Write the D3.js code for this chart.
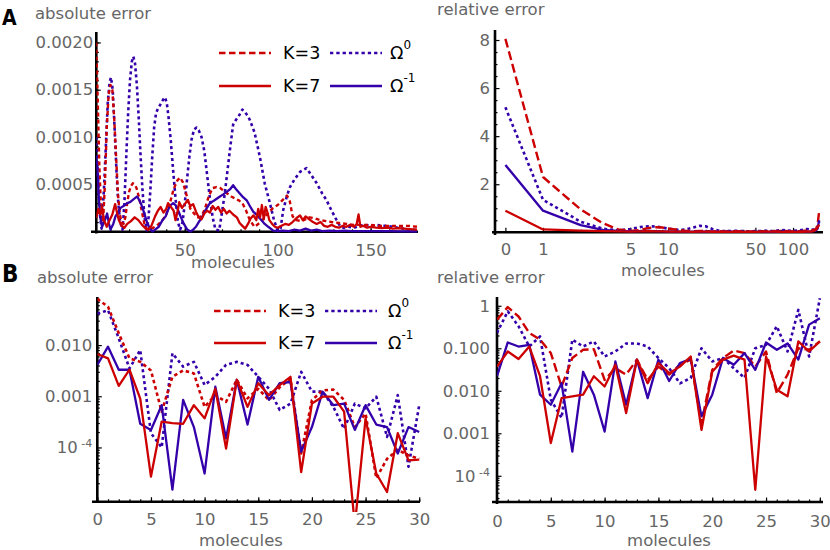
<!DOCTYPE html>
<html>
<head>
<meta charset="utf-8">
<script src="https://cdn.jsdelivr.net/npm/d3@7"></script>
<style>
  body { margin: 0; background: #fff; }
  svg text { font-family: "DejaVu Sans", sans-serif; }
</style>
</head>
<body>
<svg id="chart" width="830" height="550"></svg>
<script>
// ===================== DADOS =====================
// Painel A, erro absoluto: pares [moléculas, erro em unidades de 1e-4]
const aK3 = [[2.3,20],[3,15],[4,7],[5,2],[6,1],[7,5],[8,11],[9,14.5],[10,15.5],[11,15],[12,12],[13,8],[14,4],[15,1.8],[16,1],[17,0.8],[18,1.5],[19,3],[20,4.2],[21,4.8],[22,5.1],[23,5],[24,4.6],[25.5,3.5],[27,2],[28.5,0.6],[30,0.2],[32,0.3],[34,0.5],[36,0.8],[38,1.2],[40,1.8],[42,3],[44,4.5],[46,5.4],[47.5,5.7],[49,5.2],[51,3.8],[53,2.4],[55,1.9],[57,1.5],[59,1.6],[61,2.5],[63,3.8],[65,4.6],[67,4.7],[69,4.6],[71,4.3],[73,4.0],[75,3.7],[77,3.5],[79,3.3],[81,3.0],[83,2.2],[85,1.2],[87.5,0.5],[91,1],[94,1.8],[97,2.4],[100,2.8],[103,3.4],[105,3.8],[106.5,3.2],[108,1.6],[110,1.2],[113,1.1],[117,1.5],[120,1.4],[123,1.2],[126,1.1],[129,1.0],[133,0.9],[137,0.8],[141,0.7],[145,0.7],[150,0.7],[155,0.6],[160,0.6],[165,0.6],[170,0.6],[175,0.5]];
const aK7 = [[2.3,1.4],[3.5,2.4],[4.5,1.8],[5.5,2.6],[6.5,1.2],[8,0.5],[9.5,1.2],[11,1.8],[12.5,2.9],[13.5,2.0],[14.5,1.2],[16,0.6],[17.5,0.4],[19,0.8],[21,1.1],[23,1.5],[25,1.2],[27,0.7],[29,0.3],[30.5,0.2],[32,0.6],[34,1.6],[35.5,2.2],[37,2.6],[38.5,2.0],[40,2.4],[41,3.0],[42.5,2.6],[44,2.2],[45,1.2],[46,2.0],[47,3.1],[48.5,2.5],[50,2.9],[51.5,3.3],[53,2.7],[54.5,2.9],[56,2.1],[57.5,1.5],[59,1.3],[60.5,1.9],[62,2.2],[63.5,2.0],[65,2.7],[66.5,2.3],[68,2.6],[69.5,2.0],[71,2.4],[72.5,1.9],[74,2.2],[76,1.8],[78,1.5],[79.5,0.9],[81,0.6],[82.5,0.3],[84,0.8],[85.5,1.4],[87,1.7],[88.5,1.2],[89.5,2.4],[90.5,1.5],[91.5,2.8],[92.5,1.3],[93.5,2.6],[94.5,2.0],[95.5,1.2],[97,0.8],[98.5,0.5],[100,0.4],[102,0.6],[104,0.8],[106,0.7],[108,1.0],[110,1.4],[112,1.7],[113.5,1.2],[115,1.6],[117,1.3],[119,1.0],[121,0.8],[123,1.0],[125,0.6],[127,0.5],[129,0.7],[131,0.5],[133,0.4],[135,0.6],[137,0.5],[139,0.7],[141,0.5],[142.5,0.8],[143.5,1.8],[144.5,0.5],[146,0.6],[148,0.4],[150,0.5],[153,0.4],[156,0.35],[159,0.4],[162,0.3],[165,0.35],[168,0.3],[171,0.25],[175,0.2]];
const aOm0 = [[2.3,10],[3.2,6],[4.2,2],[5.2,0.3],[6.5,4.5],[7.5,9],[8.5,13.5],[9.5,15.8],[10.3,16.3],[11.2,15],[12.2,11],[13.2,6.5],[14.2,3],[15.2,1],[16.5,0.2],[17.5,3],[18.5,8],[19.5,12.5],[20.5,16],[21.5,18],[22.3,18.5],[23.2,17.8],[24.2,15.5],[25.2,12],[26.2,8],[27.2,4.5],[28.3,1.5],[29.5,0.1],[30.5,1.5],[31.5,4.5],[32.5,8],[33.5,11],[34.5,12.5],[35.5,13],[36.5,13.3],[37.5,13.7],[38.5,14],[39.3,14.2],[40.3,13.6],[41.3,12],[42.5,9.5],[43.7,6.5],[45,3.5],[46.3,1],[47.5,0.2],[48.8,1],[50,3],[51.2,5.5],[52.5,8],[53.7,9.8],[55,10.8],[56.3,11],[57.5,10.7],[59,10],[60.5,8.5],[62,6],[63.5,3.5],[65,1.5],[66.5,0.2],[68.5,0.1],[70,2],[71.5,4],[73,6.5],[74.5,9],[76,11.3],[77.5,11.8],[79,12.2],[81,12.9],[82.5,12.6],[84,12.2],[85,11.8],[87.5,10.5],[90.4,7.9],[93,5.1],[95.8,3],[98,1.2],[100,0.1],[101.5,0.3],[103,2.3],[105,3.8],[106.6,4.7],[109,5.5],[112,6.3],[115.5,6.7],[118,6.0],[121,5.1],[124,4.0],[126.3,3.3],[129,2.2],[131.7,1.2],[133.5,0.6],[135.5,0.4],[138,0.5],[141,0.4],[144,0.6],[147,0.7],[150,0.6],[153,0.7],[156,0.6],[159,0.6],[162,0.5],[165,0.4],[168,0.3],[171,0.2],[175,0.15]];
const aOm1 = [[2.3,8],[3,6.5],[3.8,3.3],[4.5,1.5],[5.5,0.5],[7,1.2],[8.2,1.9],[9.2,0.8],[10,0.2],[11.5,0.8],[12.7,1.6],[14,2.0],[15.4,2.5],[17,2.7],[19,3.0],[20.5,3.1],[21.7,3.3],[23,3.5],[24.4,3.7],[25.8,3.2],[27.1,2.6],[28.5,1.7],[29.8,0.9],[31,0.4],[32.5,0.0],[34,0.2],[36,0.5],[38,1.2],[39.7,1.6],[41,2.3],[42.4,2.8],[43.7,3.0],[45,2.8],[46.3,2.3],[47.7,1.6],[49.5,0.8],[51.3,0.2],[53,0.0],[54.5,0.2],[56,0.5],[57.5,1.0],[59,1.4],[61,2.2],[63.5,3.0],[66,3.3],[68.9,3.7],[70.5,3.9],[72.5,4.2],[74.5,4.5],[76,4.9],[77.5,4.5],[79.7,4.0],[81.5,3.6],[83.3,3.3],[85,2.7],[86.8,2.1],[89,1.7],[91.3,1.2],[93,0.8],[94.9,0.5],[97.6,0.1],[100,0.05],[103,0.1],[106,0.05],[109,0.2],[112,0.1],[115,0.3],[118,0.1],[121,0.2],[124,0.05],[128,0.1],[132,0.05],[136,0.1],[140,0.05],[145,0.05],[150,0.03],[155,0.05],[160,0.03],[165,0.02],[170,0.01],[175,0]];

// Painel A, erro relativo
const arX   = [0,1,2,3,4,5,6,7,8,9,10,12,14,16,18,20,23,26,30,35,40,45,50,60,70,80,90,100,110,120,130,140,145,152,157,162];
const arK3  = [8.05,2.3,0.95,0.38,0.12,0.06,0.1,0.18,0.21,0.2,0.16,0.1,0.06,0.05,0.06,0.05,0.04,0.05,0.04,0.05,0.04,0.03,0.05,0.04,0.05,0.06,0.05,0.04,0.05,0.06,0.08,0.06,0.1,0.12,0.3,0.88];
const arK7  = [0.9,0.12,0.07,0.05,0.04,0.03,0.04,0.05,0.04,0.04,0.03,0.03,0.03,0.02,0.03,0.03,0.02,0.03,0.02,0.03,0.02,0.03,0.02,0.03,0.03,0.02,0.03,0.02,0.03,0.02,0.04,0.03,0.05,0.1,0.2,0.32];
const arOm0 = [5.2,1.35,0.44,0.15,0.08,0.14,0.22,0.25,0.24,0.2,0.15,0.1,0.12,0.2,0.27,0.25,0.12,0.06,0.05,0.06,0.05,0.04,0.05,0.06,0.05,0.1,0.08,0.06,0.07,0.1,0.14,0.1,0.12,0.1,0.2,0.45];
const arOm1 = [2.8,0.9,0.3,0.1,0.06,0.04,0.05,0.06,0.05,0.04,0.03,0.03,0.02,0.03,0.02,0.03,0.02,0.02,0.03,0.02,0.02,0.02,0.03,0.02,0.02,0.03,0.02,0.02,0.03,0.02,0.03,0.04,0.05,0.06,0.15,0.5];

// Painel B: moléculas 0..30
const molB  = [0,1,2,3,4,5,6,7,8,9,10,11,12,13,14,15,16,17,18,19,20,21,22,23,24,25,26,27,28,29,30];
const blK3  = [0.08,0.056,0.017,0.0055,0.0047,0.0032,5.0e-4,0.0024,0.0032,0.0028,6.2e-4,0.00105,7.8e-4,0.0021,9.1e-4,0.0014,8.4e-4,0.0015,0.0022,7.6e-5,8.4e-4,0.0013,0.00135,8.5e-4,2.5e-4,4.6e-4,2.5e-5,6e-5,9e-5,7e-5,6e-5];
const blK7  = [0.0067,0.0055,0.0016,0.0033,9e-4,2.7e-5,3.2e-4,3.0e-4,2.9e-4,6.7e-4,3.7e-4,0.0014,9.5e-5,0.0021,6.2e-4,0.0018,0.00105,0.00165,0.0024,3.3e-5,7.2e-4,9.8e-4,9.8e-4,5.0e-4,3e-6,3.7e-4,3.1e-5,1.35e-5,1.9e-4,5.6e-5,5.8e-5];
const blOm0 = [0.041,0.048,0.0135,0.0035,0.008,1.9e-4,1.0e-4,0.0069,0.0038,0.0047,0.00166,0.0024,0.0041,0.0047,0.0041,0.0024,0.0014,5.4e-4,7.2e-4,0.003,0.00123,0.00123,6.2e-4,2.3e-4,7.2e-4,5.8e-4,9.8e-4,1.6e-4,0.00105,4.2e-5,6.7e-4];
const blOm1 = [0.0041,0.0093,0.0033,0.0033,2.9e-4,2.2e-4,6.7e-4,1.5e-5,8.5e-4,2.5e-4,3.1e-5,0.00154,1.5e-4,0.0021,2.8e-4,0.0024,8.5e-4,0.0018,0.0019,8.3e-5,2.5e-4,0.00123,6.7e-4,7.2e-4,2.2e-4,6.7e-4,2.8e-4,2.5e-4,7.6e-5,2.5e-4,2.0e-4];
const brK3  = [0.47,0.93,0.56,0.23,0.16,0.077,0.0126,0.059,0.092,0.095,0.018,0.034,0.024,0.054,0.018,0.037,0.024,0.041,0.054,0.0017,0.031,0.059,0.089,0.077,0.037,0.084,0.0089,0.024,0.1,0.092,0.145];
const brK7  = [0.037,0.084,0.056,0.11,0.022,5.9e-4,0.0067,0.0074,0.0081,0.022,0.0126,0.041,0.003,0.054,0.015,0.045,0.026,0.037,0.064,0.0012,0.028,0.054,0.067,0.054,4.7e-5,0.064,0.0106,0.0074,0.145,0.084,0.145];
const brOm0 = [0.23,0.74,0.33,0.11,0.19,0.0062,0.0023,0.16,0.11,0.145,0.064,0.084,0.13,0.13,0.11,0.059,0.034,0.015,0.02,0.1,0.049,0.059,0.034,0.02,0.1,0.12,0.33,0.084,0.8,0.064,1.5];
const brOm1 = [0.022,0.137,0.11,0.12,0.0081,0.0047,0.015,3.7e-4,0.028,0.0081,0.0011,0.049,0.0047,0.054,0.0067,0.054,0.017,0.045,0.056,0.0025,0.0081,0.059,0.041,0.077,0.031,0.137,0.092,0.13,0.054,0.36,0.51];

// ticks
const alXTicks = [50, 100, 150];
const alYTicks = [0.0005, 0.0010, 0.0015, 0.0020];
const arXTicks = [0.5, 1, 5, 10, 50, 100];          // 0.5 = posição do "0"
const arYTicks = [2, 4, 6, 8];
const bXTicks  = [0, 5, 10, 15, 20, 25, 30];
const blYTicks = [1e-4, 1e-3, 1e-2];
const brYTicks = [1e-4, 1e-3, 1e-2, 0.1, 1];

// ===================== CONFIG =====================
const RED = "#cc0000", BLUE = "#3300aa", GREY = "#666";
const svg = d3.select("#chart");

const logMinor = (lo, hi) => {
  const out = [];
  for (let e = lo; e <= hi; e++) for (let k = 2; k <= 9; k++) out.push(k * Math.pow(10, e));
  return out;
};

function clipGroup(id, x0, y0, x1, y1) {
  svg.append("clipPath").attr("id", id).append("rect")
    .attr("x", x0).attr("y", y0).attr("width", x1 - x0).attr("height", y1 - y0);
  return svg.append("g").attr("clip-path", `url(#${id})`);
}

function styleAxis(g) {
  g.attr("font-family", null).attr("font-size", null);
  g.select(".domain").remove();
  g.selectAll(".tick line").attr("stroke", "#000").attr("stroke-width", 1.2);
  g.selectAll(".tick text").attr("fill", GREY).attr("font-size", 16.5);
}

function supLabel(g, val) {
  g.selectAll(".tick text").filter(d => d === val).each(function () {
    const t = d3.select(this).text("10");
    t.append("tspan").text(" -4").attr("font-size", 11).attr("dy", "-0.55em");
  });
}

function axes(o) {
  const gxm = svg.append("g").attr("transform", `translate(0,${o.ay})`);
  gxm.call(d3.axisBottom(o.sx).tickValues(o.xMinor).tickFormat("").tickSize(-2.5).tickSizeOuter(0));
  styleAxis(gxm);
  const gx = svg.append("g").attr("transform", `translate(0,${o.ay})`);
  gx.call(d3.axisBottom(o.sx).tickValues(o.xTicks).tickFormat(o.xFmt).tickSize(-4.5).tickSizeOuter(0).tickPadding(o.xPad));
  styleAxis(gx);

  const gym = svg.append("g").attr("transform", `translate(${o.ax},0)`);
  gym.call(d3.axisLeft(o.sy).tickValues(o.yMinor).tickFormat("").tickSize(-2.5).tickSizeOuter(0));
  styleAxis(gym);
  const gy = svg.append("g").attr("transform", `translate(${o.ax},0)`);
  gy.call(d3.axisLeft(o.sy).tickValues(o.yTicks).tickFormat(o.yFmt).tickSize(-4.5).tickSizeOuter(0).tickPadding(o.yPad));
  styleAxis(gy);
  if (o.sup) supLabel(gy, 1e-4);

  svg.append("line").attr("x1", o.xLine[0]).attr("x2", o.xLine[1]).attr("y1", o.ay).attr("y2", o.ay)
    .attr("stroke", "#000").attr("stroke-width", 2.6);
  svg.append("line").attr("x1", o.ax).attr("x2", o.ax).attr("y1", o.yLine[0]).attr("y2", o.yLine[1])
    .attr("stroke", "#000").attr("stroke-width", 2.6);

  svg.append("text").attr("x", o.lab[0]).attr("y", o.lab[1]).attr("text-anchor", "middle")
    .attr("fill", GREY).attr("font-size", 16.5).text("molecules");
}

function series(g, pts, sx, sy, color, dash, w) {
  g.append("path").datum(pts)
    .attr("fill", "none").attr("stroke", color).attr("stroke-width", w)
    .attr("stroke-dasharray", dash).attr("stroke-linejoin", "round")
    .attr("d", d3.line().x(d => sx(d[0])).y(d => sy(d[1])));
}

function title(x, y, txt) {
  svg.append("text").attr("x", x).attr("y", y).attr("fill", GREY).attr("font-size", 16.5).text(txt);
}
function panelLetter(x, y, txt, size) {
  svg.append("text").attr("x", x).attr("y", y).attr("font-size", size).attr("font-weight", "bold")
    .style("font-family", '"Liberation Sans Narrow","DejaVu Sans Condensed","Liberation Sans",sans-serif')
    .attr("fill", "#000").text(txt);
}

function legend(y1, y2, lx, tx, bx, ox) {
  const items = [
    { y: y1, x0: lx, col: RED, dash: "6.5,3.5", w: 2.6, label: "K=3", tx: tx },
    { y: y2, x0: lx, col: RED, dash: null, w: 2.4, label: "K=7", tx: tx },
    { y: y1, x0: bx, col: BLUE, dash: "3.3,3", w: 2.6, label: "Ω", sup: "0", tx: ox },
    { y: y2, x0: bx, col: BLUE, dash: null, w: 2.4, label: "Ω", sup: "-1", tx: ox }
  ];
  items.forEach(it => {
    svg.append("line").attr("x1", it.x0).attr("x2", it.x0 + 52).attr("y1", it.y).attr("y2", it.y)
      .attr("stroke", it.col).attr("stroke-width", it.w).attr("stroke-dasharray", it.dash);
    const t = svg.append("text").attr("x", it.tx).attr("y", it.y).attr("dy", "0.36em")
      .attr("font-size", 17.5).attr("fill", "#000").text(it.label);
    if (it.sup) t.append("tspan").attr("font-size", 12).attr("dy", "-0.9em").text(it.sup);
  });
}

// ===================== PAINEL A - ABSOLUTO =====================
const sxAL = d3.scaleLinear().domain([0, 175.5]).range([91.9, 418]);
const syAL = d3.scaleLinear().domain([0, 0.0021]).range([231.5, 33]);
axes({
  sx: sxAL, sy: syAL, ax: 96.3, ay: 231.8, xLine: [91, 418], yLine: [32, 233.5],
  xTicks: alXTicks, xMinor: d3.range(10, 176, 10), xFmt: d3.format("d"), xPad: 12,
  yTicks: alYTicks, yMinor: d3.range(1, 21).map(k => k * 1e-4), yFmt: d3.format(".4f"), yPad: 3,
  lab: [233, 268]
});
const gAL = clipGroup("clipAL", 96.3, 28, 419, 236);
const e4 = arr => arr.map(d => [d[0], d[1] * 1e-4]);
series(gAL, e4(aOm0), sxAL, syAL, BLUE, "3,3", 2.6);
series(gAL, e4(aK3), sxAL, syAL, RED, "4,3", 2.4);
series(gAL, e4(aOm1), sxAL, syAL, BLUE, null, 2.3);
series(gAL, e4(aK7), sxAL, syAL, RED, null, 2.3);

// ===================== PAINEL A - RELATIVO =====================
const sxAR = d3.scaleLog().domain([0.5, 175]).range([505.4, 823.4]);
const syAR = d3.scaleLinear().domain([0, 8.4]).range([232.3, 30.4]);
axes({
  sx: sxAR, sy: syAR, ax: 495, ay: 232.3, xLine: [492, 823], yLine: [30, 235],
  xTicks: arXTicks, xMinor: [2,3,4,6,7,8,9,20,30,40,60,70,80,90,150], xFmt: d => d === 0.5 ? "0" : d, xPad: 11,
  yTicks: arYTicks, yMinor: [0.5,1,1.5,2.5,3,3.5,4.5,5,5.5,6.5,7,7.5], yFmt: d3.format("d"), yPad: 5,
  lab: [663, 276]
});
const gAR = clipGroup("clipAR", 495, 28, 826, 236);
const arPts = ys => arX.map((x, i) => [Math.max(x, 0.5), ys[i]]);
series(gAR, arPts(arOm0), sxAR, syAR, BLUE, "3,3", 2.6);
series(gAR, arPts(arK3), sxAR, syAR, RED, "9,4", 2.4);
series(gAR, arPts(arOm1), sxAR, syAR, BLUE, null, 2.3);
series(gAR, arPts(arK7), sxAR, syAR, RED, null, 2.3);

// ===================== PAINEL B - ABSOLUTO =====================
const sxBL = d3.scaleLinear().domain([0, 30.1]).range([97.3, 420.3]);
const syBL = d3.scaleLog().domain([Math.pow(10, -5.06), Math.pow(10, -1.08)]).range([501.7, 298]);
const fmtBL = d => d === 1e-4 ? "10-4" : d3.format(".3f")(d);
axes({
  sx: sxBL, sy: syBL, ax: 97.3, ay: 501.7, xLine: [92, 420], yLine: [297, 503],
  xTicks: bXTicks, xMinor: molB, xFmt: d3.format("d"), xPad: 11.6,
  yTicks: blYTicks, yMinor: logMinor(-5, -2).filter(v => v < 0.085), yFmt: fmtBL, yPad: 5, sup: true,
  lab: [241, 546]
});
const gBL = clipGroup("clipBL", 97.3, 296, 421, 512);
const bPts = ys => molB.map((x, i) => [x, ys[i]]);
series(gBL, bPts(blOm0), sxBL, syBL, BLUE, "3,3", 2.6);
series(gBL, bPts(blK3), sxBL, syBL, RED, "3.5,3", 2.6);
series(gBL, bPts(blOm1), sxBL, syBL, BLUE, null, 2.3);
series(gBL, bPts(blK7), sxBL, syBL, RED, null, 2.3);

// ===================== PAINEL B - RELATIVO =====================
const sxBR = d3.scaleLinear().domain([0, 30.2]).range([497, 822]);
const syBR = d3.scaleLog().domain([Math.pow(10, -4.64), Math.pow(10, 0.19)]).range([503, 297.7]);
const fmtBR = d => d === 1e-4 ? "10-4" : (d === 1 ? "1" : d3.format(".3f")(d));
axes({
  sx: sxBR, sy: syBR, ax: 497, ay: 502, xLine: [492, 823], yLine: [297, 504],
  xTicks: bXTicks, xMinor: molB, xFmt: d3.format("d"), xPad: 13,
  yTicks: brYTicks, yMinor: logMinor(-5, 0).filter(v => v > 2.3e-5 && v < 1.5), yFmt: fmtBR, yPad: 7, sup: true,
  lab: [669, 546]
});
const gBR = clipGroup("clipBR", 497, 296, 826, 506);
series(gBR, bPts(brOm0), sxBR, syBR, BLUE, "3,3", 2.6);
series(gBR, bPts(brK3), sxBR, syBR, RED, "9,4", 2.4);
series(gBR, bPts(brOm1), sxBR, syBR, BLUE, null, 2.3);
series(gBR, bPts(brK7), sxBR, syBR, RED, null, 2.3);

// ===================== TEXTOS =====================
panelLetter(2, 25, "A", 21);
panelLetter(2, 282, "B", 24);
title(35, 19, "absolute error");
title(437, 15, "relative error");
title(37, 283, "absolute error");
title(437, 283, "relative error");

legend(53, 86, 219, 283, 330, 390);
legend(311, 343, 214, 278, 325, 388);
</script>
</body>
</html>
